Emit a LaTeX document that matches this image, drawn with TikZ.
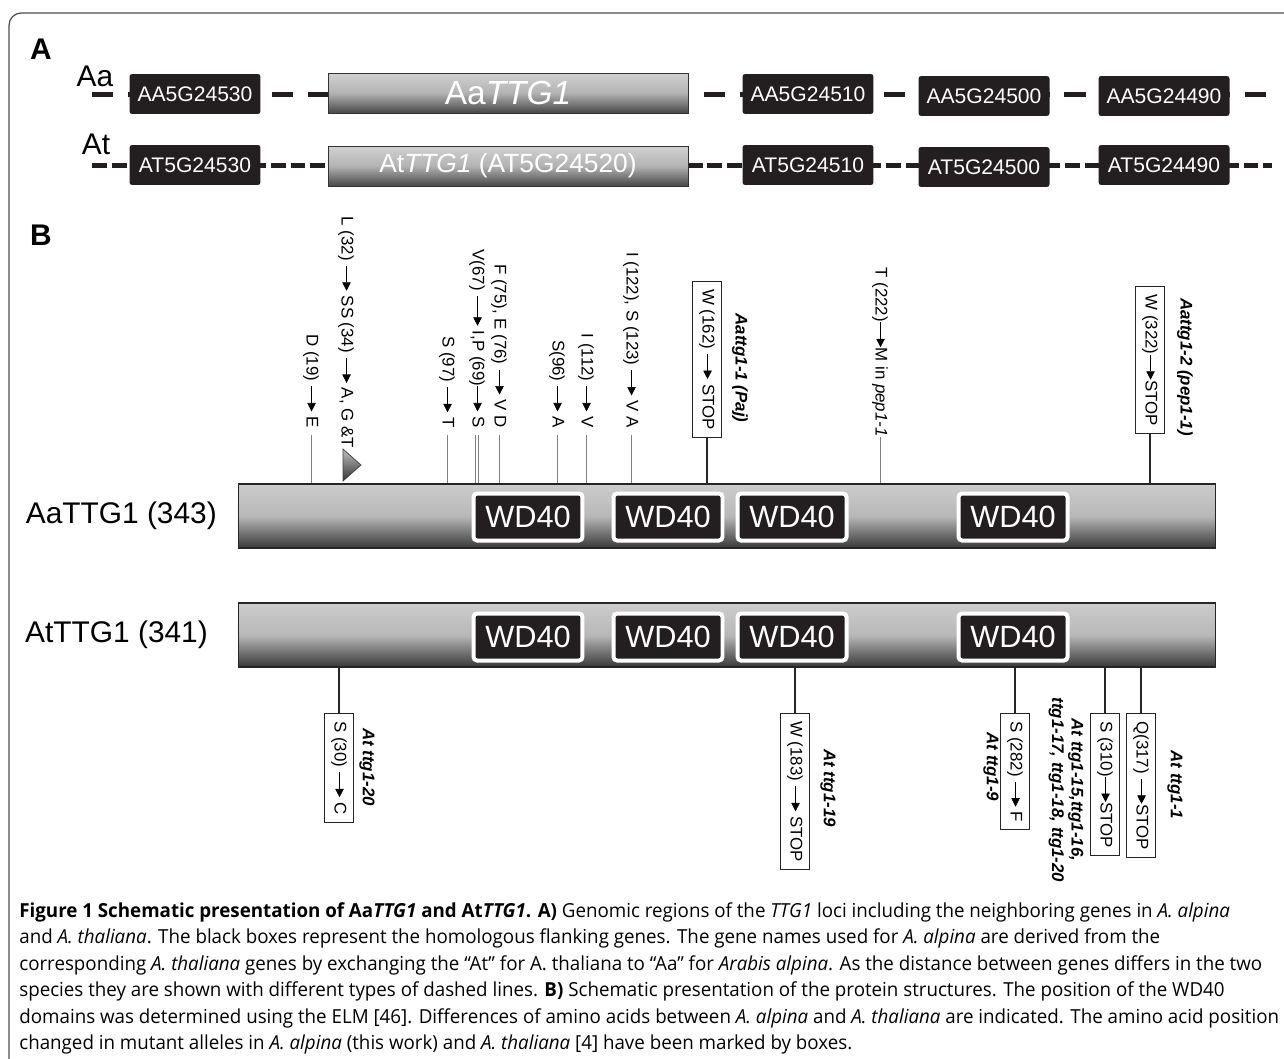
\documentclass[tikz,border=0pt]{standalone}
\usepackage{fontspec}
\setmainfont{Liberation Sans}
\newfontfamily\capfont[FakeStretch=0.97]{Open Sans}
\usepackage{tikz}
\usetikzlibrary{positioning,calc,arrows.meta}

\definecolor{boxblack}{HTML}{231F20}
\definecolor{framegray}{HTML}{4D4D4D}

\newcommand{\mutarrow}[1][0.5cm]{\tikz[baseline=-0.55ex]\draw[line width=0.35pt,-{Triangle[length=4.8pt,width=4.8pt]}] (0,0) -- (#1,0);}

\begin{document}
\begin{tikzpicture}[x=0.02cm,y=-0.02cm,
    genebox/.style={fill=boxblack, rounded corners=1.5pt, text=white, inner sep=0pt,
        minimum width=2.62cm, minimum height=0.8cm, font=\fontsize{12}{14}\selectfont},
    locusbox/.style={draw=black!80, line width=0.5pt, top color=black!18, bottom color=black!72,
        middle color=black!30, text=white, inner sep=0pt, minimum width=7.2cm, minimum height=0.8cm},
    protbar/.style={draw=black!85, line width=0.6pt, top color=black!20, bottom color=black!78,
        middle color=black!28, inner sep=0pt, minimum width=19.54cm, minimum height=1.28cm, anchor=west},
    wdbox/.style={fill=boxblack, draw=white, line width=0.08cm, rounded corners=2pt, text=white,
        inner sep=0pt, minimum width=2.18cm, minimum height=0.94cm, font=\fontsize{17.5}{20}\selectfont},
    mutlabel/.style={rotate=-90, anchor=east, inner xsep=4pt, inner ysep=1pt, font=\fontsize{9.6}{11}\selectfont},
    mutbox/.style={rotate=-90, draw=black!85, line width=0.5pt, inner xsep=4.5pt, inner ysep=3.6pt,
        font=\fontsize{9.6}{11}\selectfont},
    allele/.style={rotate=-90, inner sep=0pt, font=\fontsize{9.6}{11}\selectfont\bfseries\itshape},
    stem/.style={draw=black!50, line width=0.45pt},
    boxstem/.style={draw=black!85, line width=0.8pt},
    panel/.style={font=\fontsize{17}{20}\selectfont\bfseries},
    species/.style={font=\fontsize{17}{20}\selectfont},
    barlabel/.style={font=\fontsize{17}{20}\selectfont},
    aadash/.style={draw=boxblack, line width=0.1cm, dash pattern=on 12pt off 8.5pt},
    atdash/.style={draw=boxblack, line width=0.1cm, dash pattern=on 8.5pt off 2.8pt}
]
\useasboundingbox (0,0) rectangle (1284,1058);
\begin{scope}
    \clip (0,0) rectangle (1284,1058);
    \draw[framegray, line width=0.7pt, rounded corners=7pt] (9,13) rectangle (1320,1100);
\end{scope}

% A: genomic regions
\node[panel] (pa) at (41,49) {A};
\node[species, anchor=base] (aa) at (95,86) {Aa};
\node[species, anchor=base] (at) at (96,154) {At};

\coordinate (aastart) at (92,94);
\coordinate (aaend) at (1272,94);
\coordinate (atstart) at (92,165);
\coordinate (atend) at (1272,165);
\draw[aadash] (aastart) -- (aaend);
\draw[atdash] (atstart) -- (atend);

\node[genebox] (aa530) at (195,94) {AA5G24530};
\node[locusbox, font=\fontsize{19}{22}\selectfont] (aattg) at (508,93) {Aa\textit{TTG1}};
\node[genebox] (aa510) at (808,94) {AA5G24510};
\node[genebox] (aa500) at (984,96) {AA5G24500};
\node[genebox] (aa490) at (1164,96) {AA5G24490};

\node[genebox] (at530) at (195,165) {AT5G24530};
\node[locusbox, font=\fontsize{15}{18}\selectfont] (atttg) at (508,166) {At\textit{TTG1} (AT5G24520)};
\node[genebox] (at510) at (808,165) {AT5G24510};
\node[genebox] (at500) at (984,167) {AT5G24500};
\node[genebox] (at490) at (1164,165) {AT5G24490};

% B: protein structures
\node[panel] (pb) at (41,235) {B};

\node[protbar] (aabar) at (238,516) {};
\node[protbar] (atbar) at (238,635) {};
\node[barlabel, left=0.3cm of aabar] (aaname) {AaTTG1 (343)};
\node[barlabel, left=0.48cm of atbar] (atname) {AtTTG1 (341)};

\foreach \x [count=\i] in {528,668,792,1013} {
    \node[wdbox] (aawd\i) at (\x,517) {WD40};
    \node[wdbox] (atwd\i) at (\x,637) {WD40};
}

% amino acid differences
\node[mutlabel] (d19) at (311,435) {D (19) \mutarrow{} E};
\node[mutlabel, inner xsep=1pt] (l32) at (346,450) {L (32) \mutarrow{} SS (34) \mutarrow{} A, G \&T};
\node[mutlabel] (s97) at (447,435) {S (97) \mutarrow{} T};
\node[mutlabel] (v67) at (477,435) {V(67) \mutarrow[0.6cm] I,P (69)\mutarrow{} S};
\node[mutlabel] (f75) at (499,435) {F (75), E (76) \mutarrow{} V D};
\node[mutlabel] (s96) at (557,435) {S(96) \mutarrow{} A};
\node[mutlabel] (i112) at (586,435) {I (112) \mutarrow{} V};
\node[mutlabel] (i122) at (631,435) {I (122), S (123) \mutarrow{} V A};
\node[mutlabel, inner xsep=0pt] (t222) at (880,437) {T (222)\mutarrow{}M in \textit{pep1-1}};

\foreach \n in {d19,s97,f75,s96,i112,i122,t222}
    \draw[stem] (\n.east) -- (\n.east |- aabar.north);
\draw[stem] ([xshift=-0.9pt]v67.east) -- ([xshift=-0.9pt]v67.east |- aabar.north);
\draw[stem] ([xshift=0.9pt]v67.east) -- ([xshift=0.9pt]v67.east |- aabar.north);
\shade[draw=black!75, line width=0.4pt, top color=black!25, bottom color=black!80]
    (343,449) -- (343,481) -- (361,465) -- cycle;

% mutant alleles
\node[mutbox, anchor=east] (w162) at (707,438) {W (162) \mutarrow{} STOP};
\draw[boxstem] (w162.east) -- (w162.east |- aabar.north);
\node[allele] (paj) at (740,368) {Aattg1-1 (Paj)};
\node[mutbox, anchor=east] (w322) at (1150,434) {W (322)\mutarrow{}STOP};
\draw[boxstem] (w322.east) -- (w322.east |- aabar.north);
\node[allele] (pep) at (1185,367) {Aattg1-2 (pep1-1)};

\node[mutbox, anchor=west] (s30) at (339,713) {S (30) \mutarrow{} C};
\draw[boxstem] (s30.west) -- (s30.west |- atbar.south);
\node[allele] (t20) at (367,767) {At ttg1-20};
\node[mutbox, anchor=west] (w183) at (795,713) {W (183) \mutarrow{} STOP};
\draw[boxstem] (w183.west) -- (w183.west |- atbar.south);
\node[allele] (t19) at (828,788) {At ttg1-19};
\node[mutbox, anchor=west] (s282) at (1015,713) {S (282) \mutarrow{} F};
\draw[boxstem] (s282.west) -- (s282.west |- atbar.south);
\node[allele] (t9) at (991,767) {At ttg1-9};
\node[mutbox, anchor=west] (s310) at (1105,713) {S (310)\mutarrow{}STOP};
\draw[boxstem] (s310.west) -- (s310.west |- atbar.south);
\node[allele, align=center] (t15) at (1066,790) {At ttg1-15,ttg1-16,\\ttg1-17, ttg1-18, ttg1-20};
\node[mutbox, anchor=west] (q317) at (1141,713) {Q(317) \mutarrow{}STOP};
\draw[boxstem] (q317.west) -- (q317.west |- atbar.south);
\node[allele] (t1) at (1175,785) {At ttg1-1};

% caption
\node[anchor=north west, align=left, inner sep=0pt, font=\capfont\fontsize{11}{15.1}\selectfont] (caption) at (19,902)
{\textbf{Figure 1 Schematic presentation of Aa\textit{TTG1} and At\textit{TTG1}. A)} Genomic regions of the \textit{TTG1} loci including the neighboring genes in \textit{A. alpina}\\
and \textit{A. thaliana}. The black boxes represent the homologous flanking genes. The gene names used for \textit{A. alpina} are derived from the\\
corresponding \textit{A. thaliana} genes by exchanging the “At” for A. thaliana to “Aa” for \textit{Arabis alpina}. As the distance between genes differs in the two\\
species they are shown with different types of dashed lines. \textbf{B)} Schematic presentation of the protein structures. The position of the WD40\\
domains was determined using the ELM [46]. Differences of amino acids between \textit{A. alpina} and \textit{A. thaliana} are indicated. The amino acid position\\
changed in mutant alleles in \textit{A. alpina} (this work) and \textit{A. thaliana} [4] have been marked by boxes.};
\end{tikzpicture}
\end{document}
